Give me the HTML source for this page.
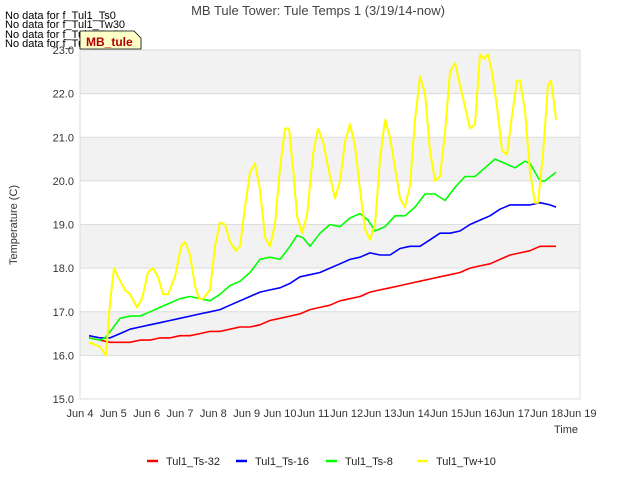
<!DOCTYPE html>
<html><head><meta charset="utf-8"><style>
body{margin:0;background:#fff;}
svg{display:block;font-family:"Liberation Sans",sans-serif;}
</style></head><body>
<svg id="chart" width="640" height="480" xmlns="http://www.w3.org/2000/svg">
<text x="318" y="15" text-anchor="middle" font-size="13" fill="#444">MB Tule Tower: Tule Temps 1 (3/19/14-now)</text>
<g id="plot"></g>
<text transform="translate(17,225) rotate(-90)" text-anchor="middle" font-size="11" fill="#333">Temperature (C)</text>
<text x="578" y="433" text-anchor="end" font-size="11" fill="#333">Time</text>
<g font-size="11" fill="#000">
<text x="5" y="19">No data for f_Tul1_Ts0</text>
<text x="5" y="28">No data for f_Tul1_Tw30</text>
<text x="5" y="38">No data for f_Tul1_Tw50</text>
<text x="5" y="47">No data for f_Tul1_Tw100</text>
</g>
<g>
<path d="M80,31 L134,31 L141,38 L141,49 L80,49 Z" fill="#ffffc8" stroke="#000" stroke-width="0.8"/>
<text x="86" y="46" font-size="12" font-weight="bold" fill="#b00000">MB_tule</text>
</g>
<g id="legend"></g>
</svg>
<script>
const yTicks=[15.0,16.0,17.0,18.0,19.0,20.0,21.0,22.0,23.0];
const xTickLabels=["Jun 4","Jun 5","Jun 6","Jun 7","Jun 8","Jun 9","Jun 10","Jun 11","Jun 12","Jun 13","Jun 14","Jun 15","Jun 16","Jun 17","Jun 18","Jun 19"];
const seriesNames=["Tul1_Ts-32","Tul1_Ts-16","Tul1_Ts-8","Tul1_Tw+10"];
const seriesColors=["#ff0000","#0000ff","#00ff00","#ffff00"];
const soilDays=[0.27,0.6,0.9,1.2,1.5,1.8,2.1,2.4,2.7,3.0,3.3,3.6,3.9,4.2,4.5,4.8,5.1,5.4,5.7,6.0,6.3,6.6,6.9,7.2,7.5,7.8,8.1,8.4,8.7,9.0,9.3,9.6,9.9,10.2,10.5,10.8,11.1,11.4,11.7,12.0,12.3,12.6,12.9,13.2,13.5,13.8,14.1,14.28];
const ts32=[16.4,16.35,16.3,16.3,16.3,16.35,16.35,16.4,16.4,16.45,16.45,16.5,16.55,16.55,16.6,16.65,16.65,16.7,16.8,16.85,16.9,16.95,17.05,17.1,17.15,17.25,17.3,17.35,17.45,17.5,17.55,17.6,17.65,17.7,17.75,17.8,17.85,17.9,18.0,18.05,18.1,18.2,18.3,18.35,18.4,18.5,18.5,18.5];
const ts16=[16.45,16.4,16.4,16.5,16.6,16.65,16.7,16.75,16.8,16.85,16.9,16.95,17.0,17.05,17.15,17.25,17.35,17.45,17.5,17.55,17.65,17.8,17.85,17.9,18.0,18.1,18.2,18.25,18.35,18.3,18.3,18.45,18.5,18.5,18.65,18.8,18.8,18.85,19.0,19.1,19.2,19.35,19.45,19.45,19.45,19.5,19.45,19.4];
const ts8Days=[0.27,0.6,0.75,0.96,1.2,1.5,1.8,2.1,2.4,2.7,3.0,3.3,3.6,3.9,4.2,4.5,4.8,5.1,5.4,5.7,6.0,6.3,6.51,6.69,6.9,7.2,7.5,7.8,8.1,8.4,8.64,8.85,9.15,9.45,9.75,10.05,10.35,10.65,10.95,11.25,11.55,11.85,12.15,12.45,12.75,13.05,13.35,13.5,13.8,13.95,14.28];
const ts8=[16.4,16.35,16.4,16.6,16.85,16.9,16.9,17.0,17.1,17.2,17.3,17.35,17.3,17.25,17.4,17.6,17.7,17.9,18.2,18.25,18.2,18.5,18.75,18.7,18.5,18.8,19.0,18.95,19.15,19.25,19.1,18.85,18.95,19.2,19.2,19.4,19.7,19.7,19.55,19.85,20.1,20.1,20.3,20.5,20.4,20.3,20.45,20.4,20.0,20.0,20.2];
const tw10Days=[0.27,0.6,0.78,0.9,1.02,1.14,1.35,1.5,1.71,1.86,2.04,2.19,2.34,2.49,2.64,2.85,3.03,3.15,3.3,3.45,3.57,3.69,3.9,4.05,4.2,4.35,4.5,4.68,4.8,4.95,5.1,5.25,5.4,5.55,5.7,5.85,6.0,6.15,6.27,6.39,6.51,6.66,6.81,6.99,7.14,7.29,7.5,7.65,7.8,7.95,8.1,8.25,8.4,8.55,8.7,8.85,9.0,9.15,9.3,9.45,9.6,9.75,9.9,10.05,10.2,10.35,10.5,10.65,10.8,10.95,11.1,11.25,11.4,11.55,11.7,11.85,12.0,12.12,12.24,12.36,12.51,12.66,12.81,12.96,13.11,13.2,13.35,13.5,13.65,13.74,13.89,14.04,14.13,14.22,14.28];
const tw10=[16.3,16.2,16.0,17.2,18.0,17.8,17.5,17.4,17.1,17.3,17.9,18.0,17.8,17.4,17.4,17.8,18.5,18.6,18.3,17.6,17.3,17.3,17.5,18.5,19.05,19.0,18.6,18.4,18.5,19.4,20.2,20.4,19.8,18.7,18.5,19.0,20.3,21.2,21.2,20.3,19.2,18.8,19.2,20.6,21.2,20.9,20.1,19.6,20.0,20.9,21.3,20.8,19.8,18.9,18.65,19.0,20.5,21.4,21.0,20.3,19.6,19.4,19.9,21.4,22.4,22.0,20.7,20.0,20.1,21.1,22.5,22.7,22.2,21.7,21.2,21.3,22.9,22.8,22.9,22.5,21.7,20.7,20.6,21.5,22.3,22.3,21.6,20.2,19.5,19.5,20.6,22.2,22.3,21.8,21.4];

const NS="http://www.w3.org/2000/svg";
const L=80,R=580,T=50,B=399,yMin=15,yMax=23,dMax=15;
function xs(d){return L+(R-L)*d/dMax;}
function ys(v){return B-(B-T)*(v-yMin)/(yMax-yMin);}
function mk(tag,attrs,parent){const e=document.createElementNS(NS,tag);for(const k in attrs)e.setAttribute(k,attrs[k]);parent.appendChild(e);return e;}
const plot=document.getElementById('plot');
for(let i=0;i<yTicks.length-1;i++){
  if(i%2===1){
    const b=mk('rect',{x:L,y:ys(yTicks[i+1]),width:R-L,height:ys(yTicks[i])-ys(yTicks[i+1]),fill:'#f2f2f2'},plot);
    
    
  }
}
yTicks.forEach(v=>{
  const g=mk('line',{x1:L,x2:R,y1:ys(v),y2:ys(v),stroke:'#dcdcdc','stroke-width':1},plot);
  
  
  const t=mk('text',{x:L-6,y:ys(v)+4,'text-anchor':'end','font-size':11,fill:'#333'},plot);
  t.textContent=v.toFixed(1);
  
  
});
const fr=mk('rect',{x:L,y:T,width:R-L,height:B-T,fill:'none',stroke:'#dcdcdc'},plot);


xTickLabels.forEach((s,i)=>{
  const t=mk('text',{x:xs(i),y:B+18,'text-anchor':'middle','font-size':11,fill:'#333'},plot);
  t.textContent=s;
  
  
});
const data=[[soilDays,ts32],[soilDays,ts16],[ts8Days,ts8],[tw10Days,tw10]];
data.forEach((d,si)=>{
  const pts=d[0].map((t,i)=>xs(t).toFixed(1)+','+ys(d[1][i]).toFixed(1)).join(' ');
  const p=mk('polyline',{points:pts,fill:'none',stroke:seriesColors[si],'stroke-width':si===3?2:1.6,'stroke-linejoin':'round'},plot);
  
  
});
const lg=document.getElementById('legend');
const lx=[147,236,326,417];
seriesNames.forEach((n,i)=>{
  const g=mk('g',{},lg);
  
  
  mk('line',{x1:lx[i],x2:lx[i]+11,y1:461,y2:461,stroke:seriesColors[i],'stroke-width':2.5},g);
  const t=mk('text',{x:lx[i]+19,y:465,'font-size':11,fill:'#222'},g);
  t.textContent=n;
});
</script>
</body></html>
